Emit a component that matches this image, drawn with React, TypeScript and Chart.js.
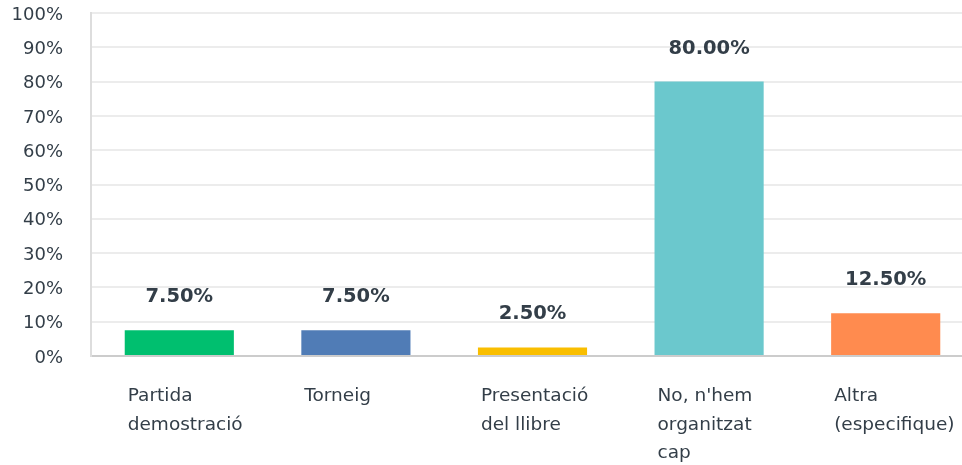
import React, { useEffect, useRef } from "react";
import { Chart, registerables } from "chart.js";

Chart.register(...registerables);

const categories: string[][] = [
  ["Partida", "demostració"],
  ["Torneig"],
  ["Presentació", "del llibre"],
  ["No, n'hem", "organitzat", "cap"],
  ["Altra", "(especifique)"],
];
const values: number[] = [7.5, 7.5, 2.5, 80, 12.5];
const barColors: string[] = ["#00bf6f", "#507cb6", "#f9be00", "#6bc8cd", "#ff8b4f"];
const yTicks: number[] = [0, 10, 20, 30, 40, 50, 60, 70, 80, 90, 100];

const TEXT = "#333e48";
const FONT = "'DejaVu Sans', sans-serif";

const labelsPlugin = {
  id: "customLabels",
  afterDatasetsDraw(chart: any) {
    const ctx = chart.ctx;
    const meta = chart.getDatasetMeta(0);
    ctx.save();
    meta.data.forEach((bar: any, i: number) => {
      const left = bar.x - bar.width / 2;
      ctx.font = `bold 19.5px ${FONT}`;
      ctx.fillStyle = TEXT;
      ctx.textAlign = "center";
      ctx.textBaseline = "alphabetic";
      ctx.fillText(values[i].toFixed(2) + "%", bar.x, bar.y - 28);
      ctx.font = `18.5px ${FONT}`;
      ctx.textAlign = "left";
      categories[i].forEach((line, j) => {
        ctx.fillText(line, left + 3, chart.chartArea.bottom + 45 + j * 28.5);
      });
    });
    ctx.restore();
  },
};

export default function App() {
  const ref = useRef<HTMLCanvasElement | null>(null);
  useEffect(() => {
    if (!ref.current) return;
    const chart = new Chart(ref.current, {
      type: "bar",
      data: {
        labels: categories.map((c) => c.join(" ")),
        datasets: [
          {
            data: values,
            backgroundColor: barColors,
            borderWidth: 0,
            barPercentage: 0.618,
            categoryPercentage: 1,
          },
        ],
      },
      options: {
        animation: false,
        responsive: false,
        maintainAspectRatio: false,
        layout: { padding: { top: 13, right: 0, left: 0, bottom: 0 } },
        plugins: { legend: { display: false }, tooltip: { enabled: false } },
        scales: {
          x: {
            grid: { display: false, drawTicks: false },
            border: { color: "#cccccc", width: 2 },
            ticks: { display: false },
            afterFit: (scale: any) => {
              scale.height = 109;
              scale.paddingLeft = 0;
              scale.paddingRight = 0;
            },
          },
          y: {
            min: 0,
            max: 100,
            afterBuildTicks: (scale: any) => {
              scale.ticks = yTicks.map((v) => ({ value: v }));
            },
            grid: { color: "#ececec", lineWidth: 2, drawTicks: false },
            border: { color: "#dddddd", width: 2 },
            ticks: {
              padding: 28,
              labelOffset: 2,
              color: TEXT,
              font: { family: FONT, size: 18 },
              callback: (v: any) => v + "%",
            },
            afterFit: (scale: any) => {
              scale.width = 91;
              scale.paddingTop = 0;
              scale.paddingBottom = 0;
            },
          },
        },
      },
      plugins: [labelsPlugin],
    });
    return () => chart.destroy();
  }, []);
  return (
    <div
      style={{
        position: "fixed",
        left: 0,
        top: 0,
        width: 962,
        height: 465,
        overflow: "hidden",
        background: "#fff",
      }}
    >
      <canvas ref={ref} width={974} height={465} style={{ width: 974, height: 465, display: "block" }} />
    </div>
  );
}
